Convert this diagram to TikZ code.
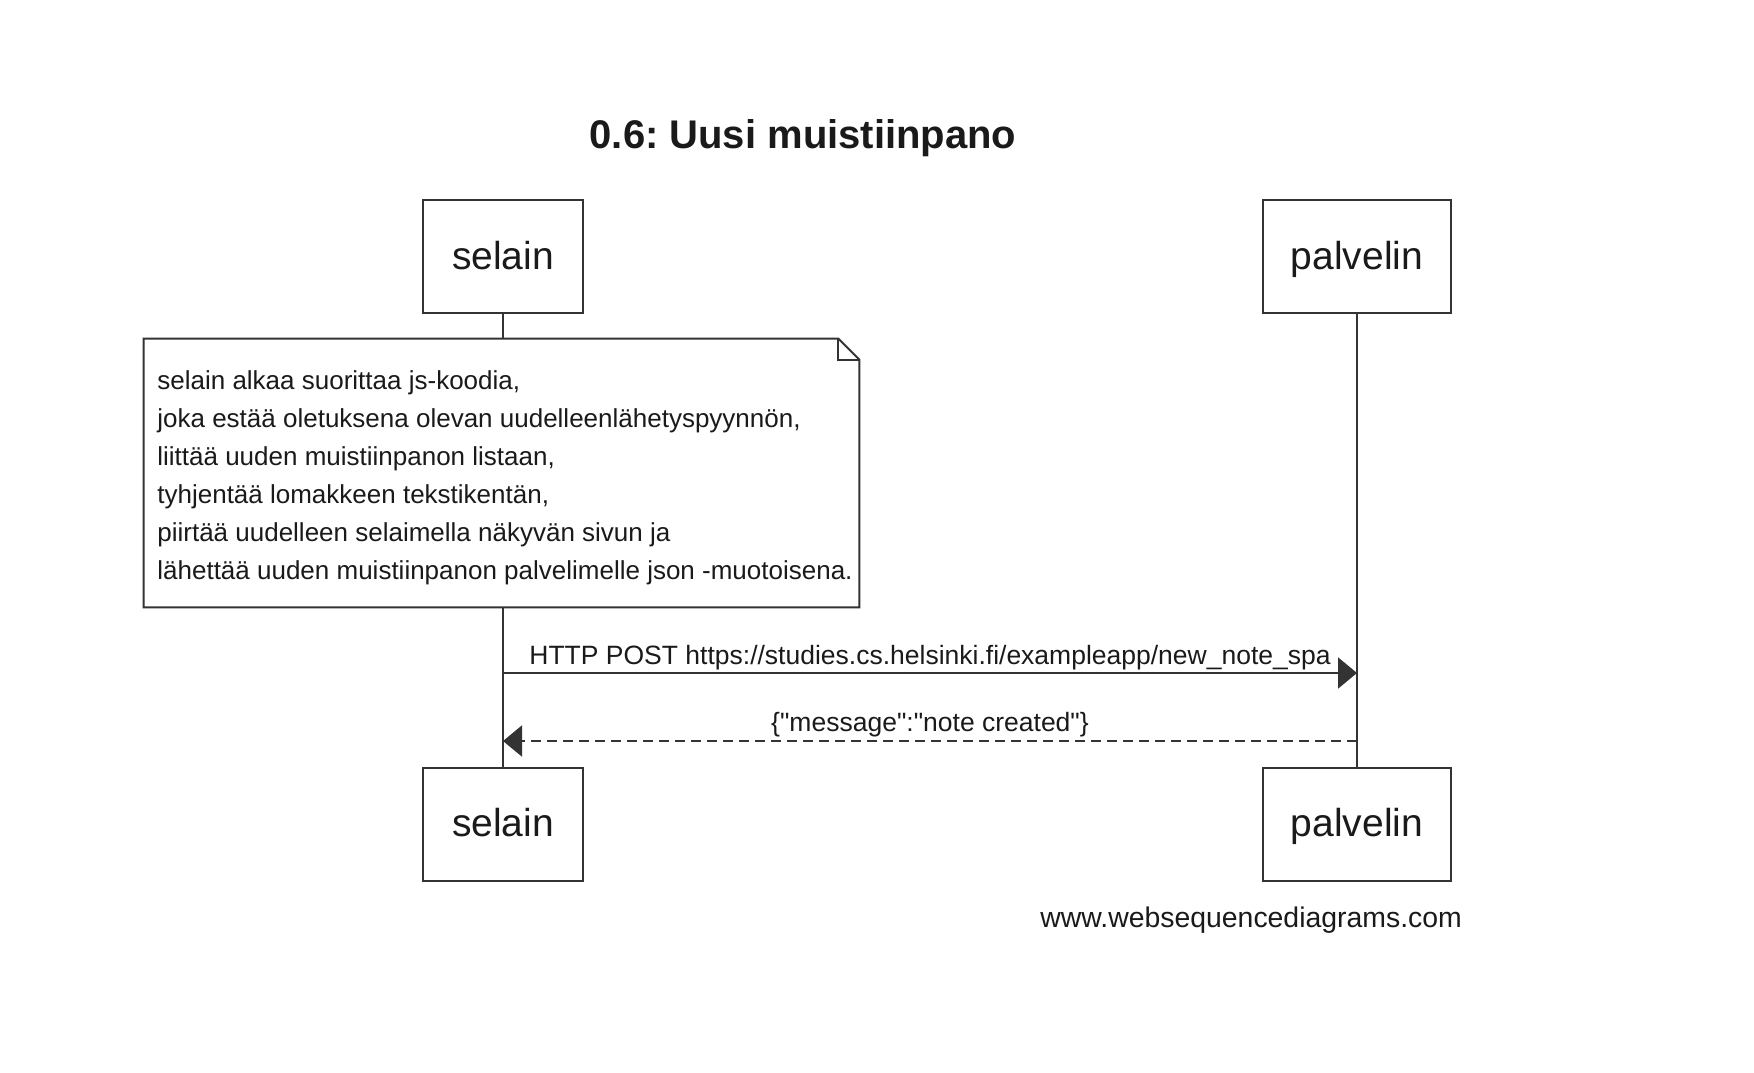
\documentclass[tikz,border=0pt]{standalone}
\usepackage{fontspec}
\setmainfont{Liberation Sans}
\newfontfamily\plainfont{Liberation Sans}
\usetikzlibrary{arrows.meta,calc}
\definecolor{ln}{HTML}{333333}
\definecolor{tx}{HTML}{1A1A1A}
\frenchspacing
\begin{document}
\begin{tikzpicture}[x=0.5pt,y=-0.5pt,
  actor/.style={draw=ln,line width=1pt,fill=white,minimum height=56.5pt,inner sep=0pt,
    font=\fontsize{19.5}{24}\selectfont,text=tx,text height=1.28em,text depth=0pt},
  lifeline/.style={draw=ln,line width=1pt},
  msg/.style={draw=ln,line width=1pt,-{Triangle[length=9.5pt,width=15.5pt]}},
  lbl/.style={font=\fontsize{13.25}{16}\selectfont,text=tx,inner sep=0pt,anchor=base}]

\useasboundingbox (0,0) rectangle (1754,1072);

\node[font=\bfseries\fontsize{20}{24}\selectfont,text=tx,anchor=base,inner sep=0pt] (title) at (803,148) {0.6: Uusi muistiinpano};

\node[actor,minimum width=80pt] (s1) at (503,256.5) {selain};
\node[actor,minimum width=94pt] (p1) at (1357,256.5) {palvelin};
\node[actor,minimum width=80pt] (s2) at (503,824) {selain};
\node[actor,minimum width=94pt] (p2) at (1357,824) {palvelin};

\draw[lifeline] (s1.south) -- (s2.north);
\draw[lifeline] (p1.south) -- (p2.north);

% note
\node[minimum width=357.5pt,minimum height=134pt,inner sep=0pt] (note) at (501.5,473) {};
\draw[ln,line width=1pt,fill=white,line join=miter]
  (note.north west) -- ($(note.north east)+(-21,0)$) -- ($(note.north east)+(0,21)$)
  -- (note.south east) -- (note.south west) -- cycle;
\draw[ln,line width=1pt]
  ($(note.north east)+(-21,0)$) -- ($(note.north east)+(-21,21)$) -- ($(note.north east)+(0,21)$);
\node[text=tx,inner sep=0pt,anchor=north west,align=left,font=\fontsize{13}{19}\selectfont] (notetext) at (157,370)
  {selain alkaa suorittaa js-koodia,\\
   joka estää oletuksena olevan uudelleenlähetyspyynnön,\\
   liittää uuden muistiinpanon listaan,\\
   tyhjentää lomakkeen tekstikentän,\\
   piirtää uudelleen selaimella näkyvän sivun ja\\
   lähettää uuden muistiinpanon palvelimelle json -muotoisena.};

% messages
\draw[msg] (s1 |- 0,673) -- (p1 |- 0,673);
\node[lbl] (l1) at (930,664) {HTTP POST https://studies.cs.helsinki.fi/exampleapp/new\_note\_spa};
\draw[msg,dash pattern=on 5pt off 3pt] (p1 |- 0,741) -- (s1 |- 0,741);
\node[lbl] (l2) at (930,731) {\plainfont\{"message":"note created"\}};

\node[lbl,anchor=base west,font=\fontsize{14.2}{17}\selectfont] (wsd) at (1040,927) {www.websequencediagrams.com};
\end{tikzpicture}
\end{document}
